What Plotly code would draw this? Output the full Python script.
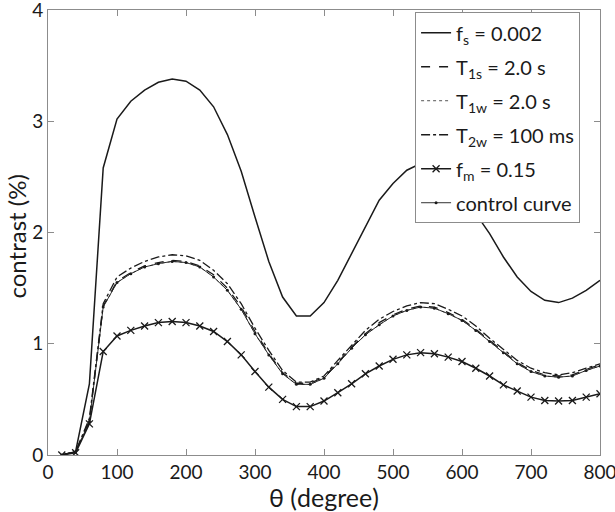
import plotly.graph_objects as go

theta = [20, 40, 60, 80, 100, 120, 140, 160, 180, 200, 220, 240, 260, 280, 300, 320, 340, 360, 380, 400,
         420, 440, 460, 480, 500, 520, 540, 560, 580, 600, 620, 640, 660, 680, 700, 720, 740, 760, 780, 800]

fs_vals = [0.0, 0.03, 0.64, 2.58, 3.02, 3.18, 3.28, 3.35, 3.38, 3.36, 3.28, 3.13, 2.88, 2.55, 2.14, 1.74, 1.42, 1.25, 1.25, 1.37,
           1.57, 1.81, 2.05, 2.29, 2.44, 2.56, 2.62, 2.61, 2.52, 2.37, 2.17, 1.99, 1.78, 1.60, 1.47, 1.39, 1.37, 1.41, 1.48, 1.57]

t1s_vals = [0.0, 0.03, 0.31, 1.34, 1.56, 1.64, 1.70, 1.73, 1.75, 1.74, 1.70, 1.62, 1.50, 1.33, 1.11, 0.91, 0.74, 0.645, 0.645, 0.70,
            0.83, 0.97, 1.09, 1.19, 1.26, 1.31, 1.34, 1.33, 1.28, 1.22, 1.13, 1.03, 0.93, 0.83, 0.76, 0.72, 0.71, 0.72, 0.77, 0.81]

t1w_vals = [0.0, 0.03, 0.30, 1.33, 1.55, 1.63, 1.69, 1.72, 1.74, 1.73, 1.69, 1.60, 1.48, 1.31, 1.09, 0.90, 0.73, 0.635, 0.635, 0.69,
            0.82, 0.96, 1.08, 1.17, 1.25, 1.30, 1.33, 1.32, 1.27, 1.21, 1.12, 1.02, 0.92, 0.82, 0.75, 0.71, 0.70, 0.71, 0.76, 0.80]

t2w_vals = [0.0, 0.03, 0.33, 1.36, 1.60, 1.68, 1.74, 1.78, 1.80, 1.79, 1.75, 1.66, 1.54, 1.36, 1.14, 0.94, 0.76, 0.655, 0.655, 0.71,
            0.85, 0.99, 1.12, 1.22, 1.29, 1.34, 1.37, 1.36, 1.31, 1.25, 1.16, 1.05, 0.95, 0.85, 0.78, 0.74, 0.72, 0.74, 0.78, 0.82]

fm_vals = [0.0, 0.02, 0.28, 0.93, 1.07, 1.12, 1.16, 1.19, 1.20, 1.19, 1.16, 1.11, 1.02, 0.90, 0.75, 0.61, 0.50, 0.435, 0.435, 0.485,
           0.56, 0.64, 0.73, 0.80, 0.86, 0.90, 0.92, 0.91, 0.88, 0.84, 0.78, 0.71, 0.63, 0.575, 0.52, 0.49, 0.485, 0.49, 0.52, 0.55]

control_vals = [0.0, 0.03, 0.30, 1.33, 1.55, 1.63, 1.69, 1.72, 1.74, 1.73, 1.69, 1.60, 1.48, 1.31, 1.09, 0.90, 0.73, 0.635, 0.635, 0.69,
                0.82, 0.96, 1.08, 1.17, 1.25, 1.30, 1.33, 1.32, 1.27, 1.21, 1.12, 1.02, 0.92, 0.82, 0.75, 0.71, 0.70, 0.71, 0.76, 0.80]

names = ["f<sub>s</sub> = 0.002", "T<sub>1s</sub> = 2.0 s", "T<sub>1w</sub> = 2.0 s",
         "T<sub>2w</sub> = 100 ms", "f<sub>m</sub> = 0.15", "control curve"]

x_ticks = [0, 100, 200, 300, 400, 500, 600, 700, 800]
y_ticks = [0, 1, 2, 3, 4]

fig = go.Figure()
ink = "#1a1a1a"
fig.add_trace(go.Scatter(x=theta, y=fs_vals, name=names[0], mode="lines", legendgroup="a",
                         line=dict(color=ink, width=1.5)))
fig.add_trace(go.Scatter(x=theta, y=t1s_vals, name=names[1], mode="lines", legendgroup="b",
                         line=dict(color=ink, width=1.3, dash="dash")))
fig.add_trace(go.Scatter(x=theta, y=t1w_vals, name=names[2], mode="lines", legendgroup="c",
                         line=dict(color="#555555", width=1, dash="dot")))
fig.add_trace(go.Scatter(x=theta, y=t2w_vals, name=names[3], mode="lines", legendgroup="d",
                         line=dict(color=ink, width=1.3, dash="dashdot")))
fig.add_trace(go.Scatter(x=theta, y=fm_vals, name=names[4], mode="lines+markers", legendgroup="e",
                         line=dict(color=ink, width=1.5),
                         marker=dict(symbol="x-thin", size=7, color=ink, line=dict(color=ink, width=1.3))))
fig.add_trace(go.Scatter(x=theta, y=control_vals, name=names[5], mode="lines+markers", legendgroup="f",
                         line=dict(color=ink, width=0.9),
                         marker=dict(symbol="circle", size=3, color=ink)))

font_family = "Lato, 'Open Sans', sans-serif"
axis_common = dict(showgrid=False, zeroline=False, showline=True, linecolor="#8c8c8c", linewidth=1,
                   mirror="ticks", ticks="inside", ticklen=6, tickcolor="#8c8c8c",
                   ticklabeloverflow="allow", automargin=False,
                   tickfont=dict(size=19, color=ink, family=font_family))
fig.update_layout(
    width=615, height=512,
    margin=dict(l=48, r=15, t=10, b=57),
    paper_bgcolor="white", plot_bgcolor="white",
    font=dict(family=font_family, color=ink),
    xaxis=dict(range=[0, 800], tickvals=x_ticks, ticktext=[str(v) for v in x_ticks], **axis_common),
    yaxis=dict(range=[0, 4], tickvals=y_ticks, ticktext=[str(v) for v in y_ticks], **axis_common),
    legend=dict(x=0.665, y=0.995, xanchor="left", yanchor="top", bgcolor="white",
                bordercolor="#8c8c8c", borderwidth=1, font=dict(size=20, color=ink),
                tracegroupgap=5, itemwidth=30),
    showlegend=True,
)
fig.add_annotation(text="θ (degree)", xref="paper", yref="paper", x=0.5, y=0,
                   xanchor="center", yanchor="top", yshift=-25, showarrow=False,
                   font=dict(size=25, color=ink, family=font_family))
fig.add_annotation(text="contrast (%)", xref="paper", yref="paper", x=0, y=0.5,
                   xanchor="center", yanchor="middle", xshift=-32, yshift=-4, textangle=-90,
                   showarrow=False, font=dict(size=24, color=ink, family=font_family))

fig.write_html("out.html", config={"displayModeBar": False},
               post_script="document.body.style.margin='0';document.body.style.overflow='hidden';")
